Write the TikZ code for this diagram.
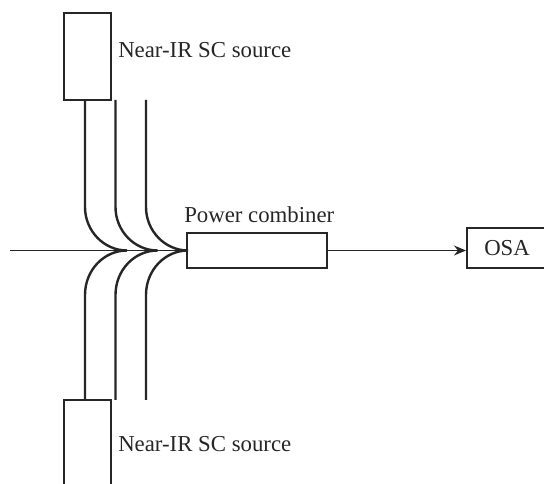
\documentclass[tikz,border=0pt]{standalone}
\usepackage{fontspec}
\setmainfont{Liberation Serif}
\usetikzlibrary{arrows.meta}
\tikzset{
 x=0.75pt,y=-0.75pt,
 box/.style={draw=black!85,line width=1.7pt,inner sep=0,outer sep=0,anchor=north west},
 fib/.style={draw=black!85,line width=1.8pt},
 thinfib/.style={draw=black!85,line width=1.15pt},
 lab/.style={inner sep=0,anchor=base west,font=\fontsize{17.1pt}{19pt}\selectfont,text=black!85},
}
\begin{document}
\begin{tikzpicture}
\useasboundingbox (0,0) rectangle (544,484);
\node[box,minimum width=47*0.75pt,minimum height=87*0.75pt] (topsrc) at (64,13) {};
\draw[box] (64,484) -- (64,400) -- (111,400) -- (111,484);
\node[box,minimum width=140*0.75pt,minimum height=35*0.75pt] (comb) at (187,233) {};
\draw[box] (544,228) -- (467,228) -- (467,268) -- (544,268);
\coordinate (osa) at (466,250.5);
\coordinate (in) at (10,250.5);
\draw[thinfib] (in) -- (comb.west);
\draw[thinfib,-{Stealth[length=9pt,width=7.5pt]}] (comb.east) -- (osa);
\foreach \x in {85,115.5,146}{
 \draw[fib] (\x,100) -- (\x,207) .. controls (\x,231) and (\x+19,250.5) .. (\x+42,250.5);
 \draw[fib] (\x,400) -- (\x,295) .. controls (\x,270) and (\x+19,250.5) .. (\x+42,250.5);
}
\node[lab] (l1) at (118,58) {Near-IR SC source};
\node[lab] (l2) at (118,451.5) {Near-IR SC source};
\node[lab] (l3) at (184,222.7) {Power combiner};
\node[lab] (l4) at (484,256) {OSA};
\end{tikzpicture}
\end{document}
